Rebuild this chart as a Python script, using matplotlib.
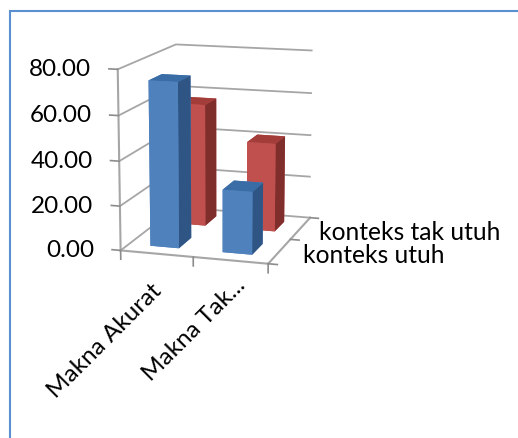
import matplotlib
matplotlib.use("Agg")
import matplotlib.pyplot as plt
from matplotlib.patches import Rectangle
from mpl_toolkits.mplot3d import proj3d

plt.rcParams['font.family'] = ['Lato', 'DejaVu Sans']

categories = ["Makna Akurat", "Makna Tak..."]
series_names = ["konteks utuh", "konteks tak utuh"]
konteks_utuh = [74.0, 28.0]
konteks_tak_utuh = [57.0, 41.0]
y_ticks = [0, 20, 40, 60, 80]
y_labels = ["0.00", "20.00", "40.00", "60.00", "80.00"]

fig = plt.figure(figsize=(5.18, 4.38), dpi=100)
fig.patches.append(Rectangle((0.0193, -0.01), 1.0, 0.985, transform=fig.transFigure,
                             fill=False, edgecolor="#5b8fd0", linewidth=1.5))

ax = fig.add_axes([0.105, 0.278, 0.62, 0.75], projection='3d')
ax.patch.set_alpha(0)
ax.view_init(elev=12.5, azim=-73)
ax.set_proj_type('persp', focal_length=0.8)
ax.set_box_aspect((1.0, 1.15, 1.2), zoom=0.87)

bar_w = 0.4
bar_d = 0.45
# faces: bottom, top, front, back, left, right
blue_faces = ["#4f81bd", "#3a6ca6", "#4f81bd", "#4f81bd", "#4f81bd", "#2f5585"]
red_faces = ["#c0504d", "#a23d3a", "#c0504d", "#c0504d", "#c0504d", "#7f2e2c"]
for row, (values, faces) in enumerate(zip([konteks_utuh, konteks_tak_utuh], [blue_faces, red_faces])):
    for col, v in enumerate(values):
        ax.bar3d(col + 0.5 - bar_w / 2, row + 0.5 - bar_d / 2, 0, bar_w, bar_d, v,
                 color=faces, shade=False, edgecolor="none")

# tick marks, drawn outside the box like the original
tick_color = "#8c8c8c"
for t in y_ticks:
    ax.plot([0, -0.12], [0, 0], [t, t], color=tick_color, linewidth=1.2)
for x in [0, 1, 2]:
    ax.plot([x, x], [0, 0], [0, -4], color=tick_color, linewidth=1.2)
for y in [0, 1, 2]:
    ax.plot([2, 2.12], [y, y], [0, 0], color=tick_color, linewidth=1.2)

ax.set_xlim(0, 2)
ax.set_ylim(0, 2)
ax.set_zlim(0, 80)
ax.set_xticks([])
ax.set_yticks([])
ax.set_zticks(y_ticks)
ax.set_zticklabels([])
ax.zaxis.set_ticks_position('lower')

for axis in (ax.xaxis, ax.yaxis, ax.zaxis):
    axis.set_pane_color((1, 1, 1, 0))
    axis.pane.set_edgecolor((1, 1, 1, 0))
    axis.line.set_color("#a6a6a6")
    axis.line.set_linewidth(1.5)
    axis._axinfo['tick'].update(inward_factor=0.0, outward_factor=0.0)
    axis._axinfo['grid'].update(color="#a6a6a6", linewidth=1.3)


def label_at(x, y, z, text, dx, dy, **kw):
    # place text next to a data point, offset in points
    px, py, _ = proj3d.proj_transform(x, y, z, ax.get_proj())
    ax.annotate(text, (px, py), xytext=(dx, dy), textcoords='offset points',
                annotation_clip=False, **kw)


for t, lab in zip(y_ticks, y_labels):
    label_at(0, 0, t, lab, -19, 0, ha='right', va='center', fontsize=17.5, color="black")
cat_offsets = [(-4, -19), (3, -10)]
for i, lab in enumerate(categories):
    label_at(i + 0.5, 0, 0, lab, cat_offsets[i][0], cat_offsets[i][1], ha='right', va='top',
             rotation=45, rotation_mode='anchor', fontsize=17.5, color="black")
legend_offsets = [17, 13]
for i, lab in enumerate(series_names):
    label_at(2, i + 0.5, 0, lab, legend_offsets[i], -3, ha='left', va='center',
             fontsize=17.7, color="black")

fig.savefig("out.png", dpi=100)
